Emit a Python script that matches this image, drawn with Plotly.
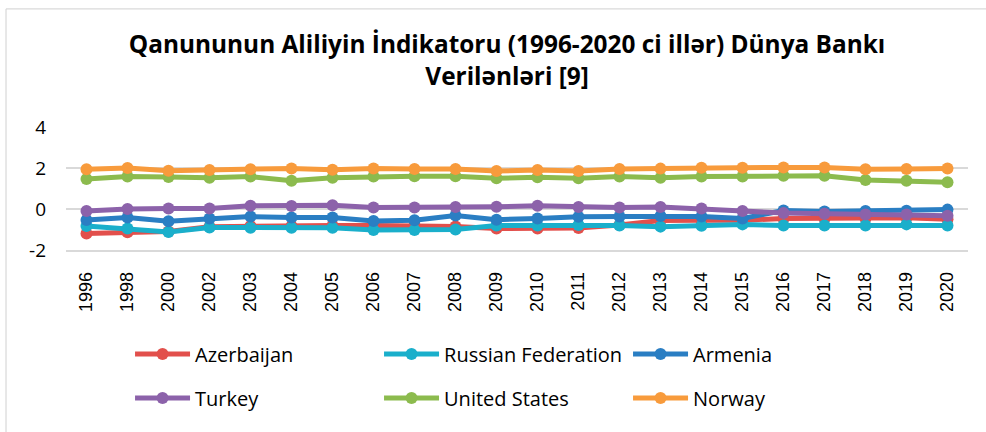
import plotly.graph_objects as go

years = ["1996", "1998", "2000", "2002", "2003", "2004", "2005", "2006", "2007", "2008",
         "2009", "2010", "2011", "2012", "2013", "2014", "2015", "2016", "2017", "2018",
         "2019", "2020"]

azerbaijan = [-1.20, -1.13, -1.10, -0.87, -0.83, -0.83, -0.80, -0.80, -0.80, -0.85,
              -0.95, -0.95, -0.93, -0.78, -0.56, -0.55, -0.55, -0.46, -0.46, -0.45,
              -0.43, -0.50]
russia = [-0.83, -0.95, -1.12, -0.90, -0.92, -0.92, -0.92, -1.02, -1.02, -1.00,
          -0.80, -0.80, -0.78, -0.80, -0.86, -0.82, -0.75, -0.81, -0.81, -0.80,
          -0.75, -0.80]
armenia = [-0.54, -0.42, -0.60, -0.46, -0.37, -0.42, -0.42, -0.58, -0.55, -0.32,
           -0.52, -0.46, -0.38, -0.37, -0.34, -0.37, -0.46, -0.07, -0.12, -0.10,
           -0.09, -0.03]
turkey = [-0.10, 0.00, 0.03, 0.03, 0.16, 0.15, 0.18, 0.07, 0.07, 0.10,
          0.11, 0.16, 0.10, 0.07, 0.10, 0.03, -0.10, -0.20, -0.23, -0.27,
          -0.27, -0.33]
united_states = [1.46, 1.58, 1.56, 1.53, 1.58, 1.38, 1.53, 1.58, 1.60, 1.60,
                 1.50, 1.55, 1.50, 1.58, 1.52, 1.58, 1.58, 1.62, 1.62, 1.41,
                 1.38, 1.30]
norway = [1.94, 2.00, 1.87, 1.90, 1.94, 1.98, 1.92, 1.98, 1.95, 1.95,
          1.85, 1.90, 1.85, 1.95, 1.97, 2.01, 2.01, 2.03, 2.03, 1.94,
          1.95, 1.98]

series_names = ["Azerbaijan", "Russian Federation", "Armenia", "Turkey", "United States", "Norway"]
series_values = [azerbaijan, russia, armenia, turkey, united_states, norway]
series_colors = ["#E2504C", "#1AAFCB", "#2A7EC3", "#8C62AA", "#8CBB4E", "#F89B3C"]
series_legend = ["legend", "legend", "legend", "legend2", "legend2", "legend2"]

y_tick_values = [-2, 0, 2, 4]
y_tick_labels = ["-2", "0", "2", "4"]

title_text = "Qanununun Aliliyin İndikatoru (1996-2020 ci illər) Dünya Bankı<br>Verilənləri [9]"

fig = go.Figure()
for name, vals, col, lg in zip(series_names, series_values, series_colors, series_legend):
    fig.add_trace(go.Scatter(
        x=years, y=vals, name=name, mode="lines+markers",
        line=dict(color=col, width=5),
        marker=dict(color=col, size=12),
        legend=lg,
    ))

legend_common = dict(orientation="h", x=0.071, xanchor="left", yanchor="middle",
                     yref="container",
                     entrywidth=179, entrywidthmode="pixels", itemwidth=55,
                     font=dict(family="Open Sans", size=20, color="#000000"),
                     traceorder="normal", bgcolor="rgba(0,0,0,0)")

fig.update_layout(
    width=986, height=432,
    margin=dict(l=66, r=18, t=127, b=182),
    paper_bgcolor="white", plot_bgcolor="white",
    title=dict(text=title_text, x=0.489, xref="paper", xanchor="center",
               y=0.877, yref="container", yanchor="top",
               font=dict(family="Open Sans", size=24.4, color="#000000", weight="bold")),
    showlegend=True,
    legend=dict(y=0.1806, **legend_common),
    legend2=dict(y=0.0787, **legend_common),
    xaxis=dict(type="category", range=[-0.5, len(years) - 0.5], tickangle=-90,
               showgrid=False, showline=True, linecolor="#D9D9D9", linewidth=1.5,
               ticks="", tickfont=dict(family="Liberation Sans", size=18, color="#000000"),
               ticklabelstandoff=13),
    yaxis=dict(range=[-2, 4], tickvals=y_tick_values, ticktext=y_tick_labels,
               showgrid=True, gridcolor="#D9D9D9",
               gridwidth=1.5, zeroline=False, showline=False, ticks="",
               tickfont=dict(family="Open Sans", size=19, color="#000000"),
               ticklabelstandoff=19),
    shapes=[dict(type="rect", xref="paper", yref="paper",
                 x0=-0.0665, x1=1.2, y0=-1.8, y1=1.96,
                 line=dict(color="#D0D0D0", width=1), layer="below")],
)

fig.write_html("out.html", config={"displayModeBar": False},
               post_script="document.body.style.margin='0';")
